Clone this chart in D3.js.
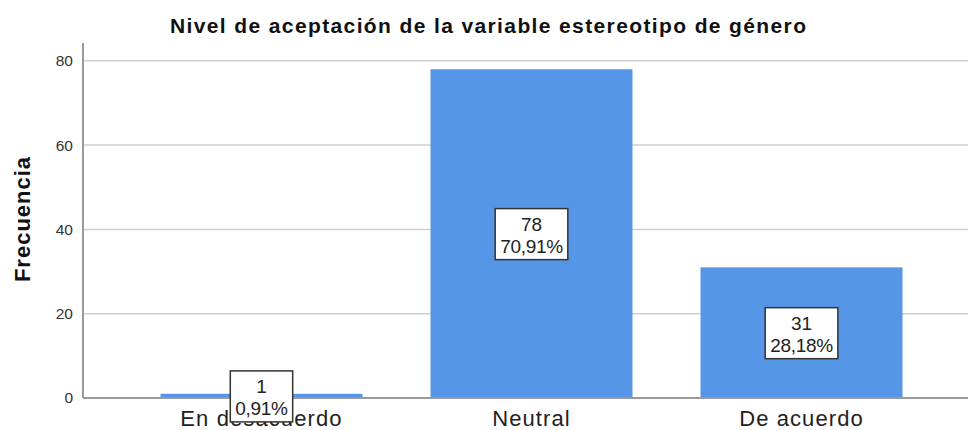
<!DOCTYPE html>
<html>
<head>
<meta charset="utf-8">
<script src="https://cdn.jsdelivr.net/npm/d3@7"></script>
<style>
  body { margin: 0; background: #fff; }
  text { font-family: "Liberation Sans", Arial, sans-serif; }
</style>
</head>
<body>
<div id="chart"></div>
<script>
// data
const categories = ["En desacuerdo", "Neutral", "De acuerdo"];
const counts = [1, 78, 31];
const percents = ["0,91%", "70,91%", "28,18%"];
const yTicks = [0, 20, 40, 60, 80];

const width = 969, height = 430;
const plot = { left: 83, right: 968, top: 43, bottom: 398 };

const svg = d3.select("#chart").append("svg")
  .attr("width", width)
  .attr("height", height);

const x = d3.scaleBand()
  .domain(categories)
  .range([plot.left, 980])
  .paddingInner(0.252)
  .paddingOuter(0.287);

const y = d3.scaleLinear()
  .domain([0, 80])
  .range([plot.bottom, 60.8]);

// gridlines
svg.append("g")
  .selectAll("line")
  .data(yTicks.filter(d => d > 0))
  .enter().append("line")
  .attr("x1", plot.left).attr("x2", plot.right)
  .attr("y1", d => y(d)).attr("y2", d => y(d))
  .attr("stroke", "#cfcfcf")
  .attr("stroke-width", 1.5);

// y axis
let yAxis = d3.axisLeft(y).tickValues(yTicks).tickSize(0).tickPadding(10);
let gy = svg.append("g")
  .attr("transform", "translate(" + plot.left + ",0)")
  .call(yAxis);
gy.select(".domain").remove();
gy.selectAll(".tick text")
  .attr("fill", "#333")
  .style("font-size", "15.5px")
  .style("font-family", "Liberation Sans, Arial, sans-serif");

svg.append("line")
  .attr("x1", plot.left).attr("x2", plot.left)
  .attr("y1", plot.top).attr("y2", plot.bottom)
  .attr("stroke", "#9a9a9a")
  .attr("stroke-width", 2);

// bars
svg.append("g")
  .selectAll("rect")
  .data(counts)
  .enter().append("rect")
  .attr("x", (d, i) => x(categories[i]))
  .attr("width", x.bandwidth())
  .attr("y", d => y(d))
  .attr("height", d => y(0) - y(d))
  .attr("fill", "#5596e6");

// x axis
svg.append("line")
  .attr("x1", plot.left).attr("x2", plot.right)
  .attr("y1", plot.bottom).attr("y2", plot.bottom)
  .attr("stroke", "#9a9a9a")
  .attr("stroke-width", 2);

svg.append("g")
  .selectAll("text")
  .data(categories)
  .enter().append("text")
  .attr("x", d => x(d) + x.bandwidth() / 2)
  .attr("y", 426)
  .attr("text-anchor", "middle")
  .attr("fill", "#222")
  .style("font-size", "22px")
  .style("letter-spacing", "1.1px")
  .text(d => d);

// value label boxes
let labels = svg.append("g")
  .selectAll("g")
  .data(counts)
  .enter().append("g")
  .attr("transform", (d, i) => {
    let cx = x(categories[i]) + x.bandwidth() / 2;
    let cy = (y(d) + y(0)) / 2 + 1;
    return "translate(" + cx + "," + cy + ")";
  });

labels.append("rect").attr("class", "box");
labels.append("text")
  .attr("class", "l1")
  .attr("text-anchor", "middle")
  .attr("y", -4)
  .attr("fill", "#222")
  .style("font-size", "19px")
  .text(d => d);
labels.append("text")
  .attr("class", "l2")
  .attr("text-anchor", "middle")
  .attr("y", 18)
  .attr("fill", "#222")
  .style("font-size", "19px")
  .style("letter-spacing", "-0.3px")
  .text((d, i) => percents[i]);

labels.each(function() {
  let g = d3.select(this);
  let w = Math.max(g.select(".l1").node().getComputedTextLength(),
                   g.select(".l2").node().getComputedTextLength()) + 10;
  g.select(".box")
    .attr("x", -w / 2).attr("width", w)
    .attr("y", -26).attr("height", 51)
    .attr("fill", "#fff")
    .attr("stroke", "#333")
    .attr("stroke-width", 1.5);
});

// axis title
svg.append("text")
  .attr("transform", "translate(30,219) rotate(-90)")
  .attr("text-anchor", "middle")
  .attr("fill", "#111")
  .style("font-size", "22px")
  .style("font-weight", "bold")
  .style("letter-spacing", "1px")
  .text("Frecuencia");

// chart title
svg.append("text")
  .attr("x", 170)
  .attr("y", 33)
  .attr("textLength", 636)
  .attr("lengthAdjust", "spacing")
  .attr("fill", "#111")
  .style("font-size", "21px")
  .style("font-weight", "bold")
  .text("Nivel de aceptación de la variable estereotipo de género");
</script>
</body>
</html>
